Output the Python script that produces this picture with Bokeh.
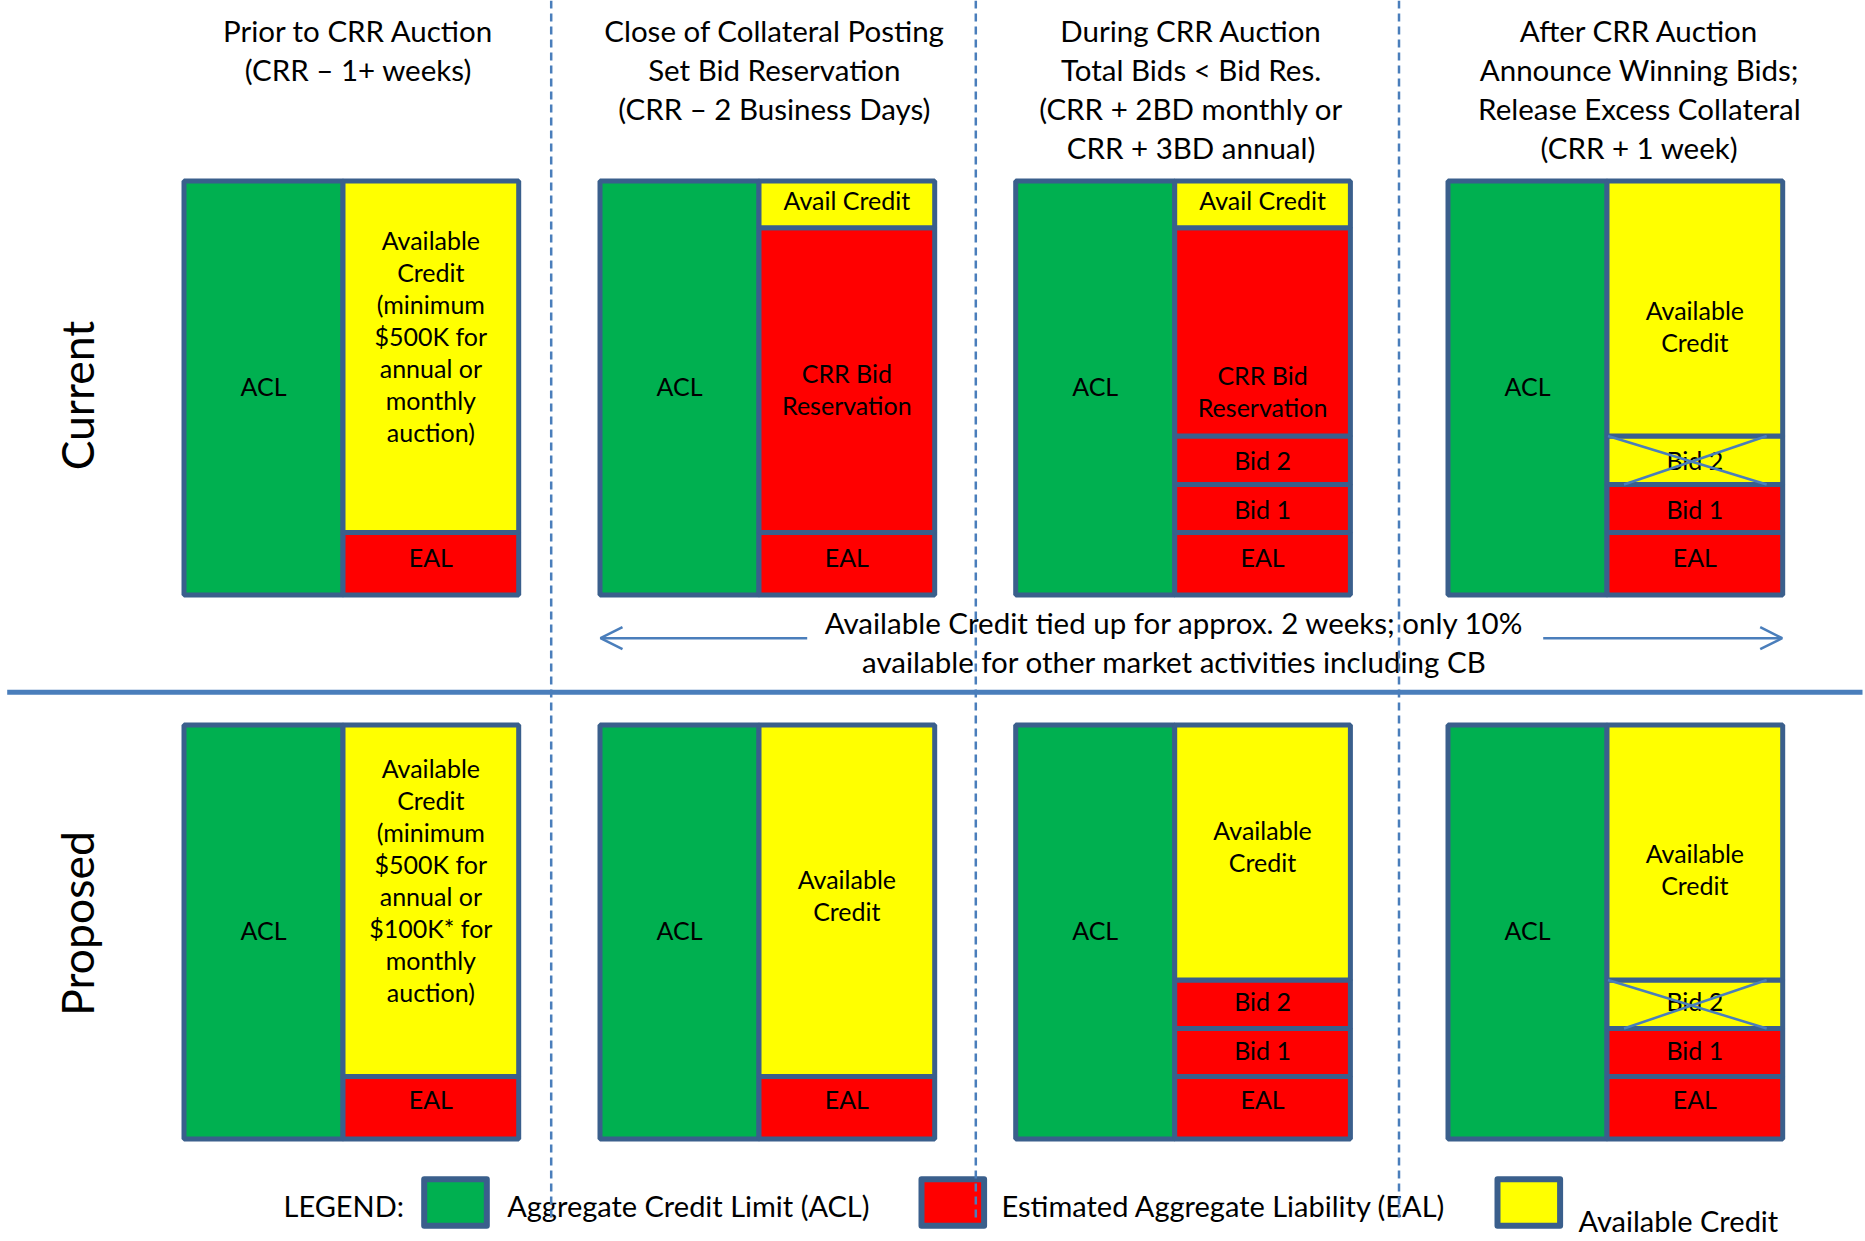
import numpy as np
from bokeh.plotting import figure
from bokeh.models import Range1d, Arrow, OpenHead
from bokeh.core.properties import value
from bokeh.embed import file_html
from bokeh.resources import INLINE

# ---------------- data ----------------
header_lines = [
    ["Prior to CRR Auction", "(CRR \u2013 1+ weeks)"],
    ["Close of Collateral Posting", "Set Bid Reservation", "(CRR \u2013 2 Business Days)"],
    ["During CRR Auction", "Total Bids < Bid Res.", "(CRR + 2BD monthly or", "CRR + 3BD annual)"],
    ["After CRR Auction", "Announce Winning Bids;", "Release Excess Collateral", "(CRR + 1 week)"],
]
row_names = ["Current", "Proposed"]
acl_label = "ACL"

# right-hand stacks, listed bottom to top; values in % of the ACL bar height
current_labels = [
    ["EAL", "Available\nCredit\n(minimum\n$500K for\nannual or\nmonthly\nauction)"],
    ["EAL", "CRR Bid\nReservation", "Avail Credit"],
    ["EAL", "Bid 1", "Bid 2", "CRR Bid\nReservation", "Avail Credit"],
    ["EAL", "Bid 1", "Bid 2", "Available\nCredit"],
]
current_values = [
    [15.1, 84.9],
    [15.1, 73.6, 11.3],
    [15.1, 11.6, 11.7, 50.3, 11.3],
    [15.1, 11.6, 11.7, 61.6],
]
current_kinds = [
    ["liab", "avail"],
    ["liab", "liab", "avail"],
    ["liab", "liab", "liab", "liab", "avail"],
    ["liab", "liab", "released", "avail"],
]
current_label_shift = [
    [-1.2, -4.6],
    [-1.2, 2.7, -0.6],
    [-1.2, 0.5, 0.4, 14.7, -0.6],
    [-1.2, 0.5, 0.4, 4.8],
]

proposed_labels = [
    ["EAL", "Available\nCredit\n(minimum\n$500K for\nannual or\n$100K* for\nmonthly\nauction)"],
    ["EAL", "Available\nCredit"],
    ["EAL", "Bid 1", "Bid 2", "Available\nCredit"],
    ["EAL", "Bid 1", "Bid 2", "Available\nCredit"],
]
proposed_values = [
    [15.1, 84.9],
    [15.1, 84.9],
    [15.1, 11.6, 11.7, 61.6],
    [15.1, 11.6, 11.7, 61.6],
]
proposed_kinds = [
    ["liab", "avail"],
    ["liab", "avail"],
    ["liab", "liab", "liab", "avail"],
    ["liab", "liab", "released", "avail"],
]
proposed_label_shift = [
    [-1.7, -4.6],
    [-1.7, -0.8],
    [-1.7, 0.0, -0.2, -1.2],
    [-1.7, 0.0, -0.2, 4.5],
]

note_lines = ["Available Credit tied up for approx. 2 weeks; only 10%",
              "available for other market activities including CB"]
legend_labels = ["Aggregate Credit Limit (ACL)", "Estimated Aggregate Liability (EAL)", "Available Credit"]
legend_kinds = ["acl", "liab", "avail"]

# ---------------- style / layout ----------------
FONT = value("Lato")
COL = {"acl": "#00B050", "liab": "#FF0000", "avail": "#FFFF00", "released": "#FFFF00"}
OUTLINE = "#3A5F8C"
BLUE = "#4A7EBB"
PX = 4.14                       # pixels per % unit
panel_left = [183.5, 599.5, 1015.2, 1447.5]
row_top = [180.5, 724.5]
ACL_W = 159.0
RIGHT_W = 175.7
BOX_LINE = 32.0
BOX_FS = "25px"
BOX_TXT_DY = -2.0
BIG_FS = "29.5px"
HEADER_Y0, HEADER_DY = 30.0, 39.0
header_shift = [7, 7, 8, 24]

W, H = 1865, 1241
p = figure(width=W, height=H, output_backend="svg", toolbar_location=None,
           x_range=Range1d(0, W), y_range=Range1d(H, 0),
           min_border=0, x_axis_location=None, y_axis_location=None)
p.grid.visible = False
p.outline_line_color = None
p.background_fill_color = "white"

txt_x, txt_y, txt_t, txt_s = [], [], [], []
def add_text(x, y, t, size):
    txt_x.append(x); txt_y.append(y); txt_t.append(t); txt_s.append(size)

def add_multiline(x, yc, t, size, dy):
    lines = t.split("\n")
    n = len(lines)
    for i, ln in enumerate(lines):
        add_text(x, yc + (i - (n - 1) / 2) * dy, ln, size)

# headers
for c, lines in enumerate(header_lines):
    cx = panel_left[c] + (ACL_W + RIGHT_W) / 2 + header_shift[c]
    for i, ln in enumerate(lines):
        add_text(cx, HEADER_Y0 + i * HEADER_DY, ln, BIG_FS)

# boxes
q_l, q_r, q_t, q_b, q_c = [], [], [], [], []
cross_x0, cross_y0, cross_x1, cross_y1 = [], [], [], []
rows = [(current_labels, current_values, current_kinds, current_label_shift),
        (proposed_labels, proposed_values, proposed_kinds, proposed_label_shift)]
for r, (labs, vals, kinds, shifts) in enumerate(rows):
    top = row_top[r]
    for c in range(4):
        x0 = panel_left[c]
        total = sum(vals[c])
        bottom = top + total * PX
        # ACL bar
        q_l.append(x0); q_r.append(x0 + ACL_W); q_t.append(top); q_b.append(bottom); q_c.append(COL["acl"])
        add_text(x0 + ACL_W / 2, (top + bottom) / 2 + BOX_TXT_DY, acl_label, BOX_FS)
        xl, xr = x0 + ACL_W, x0 + ACL_W + RIGHT_W
        yb = bottom
        for lab, v, k, s in zip(labs[c], vals[c], kinds[c], shifts[c]):
            yt = yb - v * PX
            q_l.append(xl); q_r.append(xr); q_t.append(yt); q_b.append(yb); q_c.append(COL[k])
            add_multiline((xl + xr) / 2, (yt + yb) / 2 + s * PX + BOX_TXT_DY, lab, BOX_FS, BOX_LINE)
            if k == "released":
                cross_x0 += [xl + 1, xl + 17]; cross_y0 += [yt, yb]
                cross_x1 += [xr - 16, xr - 16]; cross_y1 += [yb, yt]
            yb = yt

p.quad(left=q_l, right=q_r, top=q_t, bottom=q_b, fill_color=q_c,
       line_color=OUTLINE, line_width=5)

# legend
leg_sq_x = [423.7, 921.0, 1497.0]
leg_txt_x = [506.7, 1001.0, 1578.0]
leg_txt_y = [1204.5, 1204.5, 1219.5]
for i, (lab, k) in enumerate(zip(legend_labels, legend_kinds)):
    p.quad(left=[leg_sq_x[i]], right=[leg_sq_x[i] + 62.6], top=[1178.7], bottom=[1225.3],
           fill_color=COL[k], line_color=OUTLINE, line_width=6, line_join="round")
p.text(x=[283.0], y=[1204.5], text=["LEGEND:"], text_font=FONT, text_font_size="29px",
       text_align="left", text_baseline="middle", text_color="black")
p.text(x=leg_txt_x, y=leg_txt_y, text=legend_labels, text_font=FONT, text_font_size="29px",
       text_align="left", text_baseline="middle", text_color="black")

# note between rows
for i, ln in enumerate(note_lines):
    add_text(1174.0, 622.0 + i * 38.5, ln, BIG_FS)

# all centred texts
for size in sorted(set(txt_s)):
    idx = [i for i, s in enumerate(txt_s) if s == size]
    p.text(x=[txt_x[i] for i in idx], y=[txt_y[i] for i in idx], text=[txt_t[i] for i in idx],
           text_font=FONT, text_font_size=size, text_align="center",
           text_baseline="middle", text_color="black")

# row names (rotated)
p.text(x=[76, 76], y=[395, 923], text=row_names, angle=[np.pi / 2] * 2,
       text_font=FONT, text_font_size="44.5px", text_align="center",
       text_baseline="middle", text_color="black")

# crosses over released bids
p.segment(x0=cross_x0, y0=cross_y0, x1=cross_x1, y1=cross_y1, line_color=BLUE, line_width=2.5)

# arrows
p.add_layout(Arrow(x_start=806.7, y_start=637.7, x_end=600.0, y_end=637.7,
                   line_color=BLUE, line_width=2.5,
                   end=OpenHead(size=22, line_color=BLUE, line_width=2.5)))
p.add_layout(Arrow(x_start=1542.7, y_start=637.7, x_end=1781.7, y_end=637.7,
                   line_color=BLUE, line_width=2.5,
                   end=OpenHead(size=22, line_color=BLUE, line_width=2.5)))

# horizontal separator
p.line(x=[6.7, 1862.0], y=[691.7, 691.7], line_color=BLUE, line_width=5)

# dashed dividers
dx = [550.7, 975.3, 1398.5]
p.segment(x0=dx, y0=[0] * 3, x1=dx, y1=[1220] * 3, line_color=BLUE, line_width=2.5,
          line_dash="8 5")

open("out.html", "w").write(file_html(p, INLINE))
